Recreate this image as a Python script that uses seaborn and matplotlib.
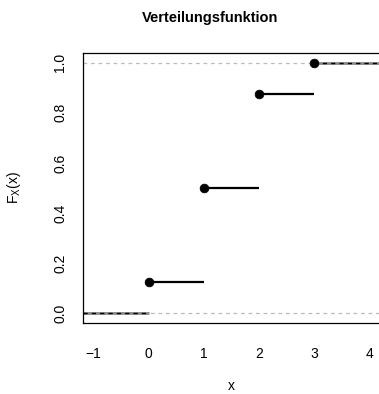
import matplotlib
matplotlib.use("Agg")
import matplotlib.pyplot as plt
import seaborn as sns
import pandas as pd
import numpy as np

x_vals = [0, 1, 2, 3]
F_vals = [0.125, 0.5, 0.875, 1.0]
x_ticks = [-1, 0, 1, 2, 3, 4]
y_ticks = [0.0, 0.2, 0.4, 0.6, 0.8, 1.0]
title = "Verteilungsfunktion"

sns.set_style("white")
plt.rcParams['font.family'] = ['Liberation Sans', 'DejaVu Sans']
plt.rcParams['text.color'] = 'black'
plt.rcParams['axes.labelcolor'] = 'black'
plt.rcParams['xtick.color'] = 'black'
plt.rcParams['ytick.color'] = 'black'

fig = plt.figure(figsize=(3.79, 3.94), dpi=100)
ax = fig.add_axes([82.5/379, (394-323.3)/394, (380.5-82.5)/379, (323.3-52.7)/394])
xmin, xmax = -1.2, 4.2
ax.set_xlim(xmin, xmax)
ax.set_ylim(-0.04, 1.04)

# reference lines at 0 and 1
for h in [0, 1]:
    ax.axhline(h, color="#bbbbbb", lw=0.9, ls=(0, (3, 3)), zorder=1)

# step segments
starts = [xmin] + x_vals
ends = x_vals + [xmax + 0.5]
levels = [0.0] + F_vals
for s, e, lv in zip(starts, ends, levels):
    if lv in (0.0, 1.0):
        ax.plot([s, e], [lv, lv], color="#888888", lw=2.0, solid_capstyle="butt", zorder=2)
        ax.plot([s, e], [lv, lv], color="black", lw=1.0, ls=(0, (3, 3)), zorder=3)
    else:
        ax.plot([s, e], [lv, lv], color="black", lw=1.6, solid_capstyle="butt", zorder=2)

df = pd.DataFrame({"x": x_vals, "F": F_vals})
sns.scatterplot(data=df, x="x", y="F", ax=ax, color="black", s=40, edgecolor="black", zorder=4, clip_on=False)

ax.set_xticks(x_ticks)
ax.set_xticklabels([("\u2212" + str(abs(t))) if t < 0 else str(t) for t in x_ticks])
ax.set_yticks(y_ticks)
ax.set_yticklabels([f"{t:.1f}" for t in y_ticks], rotation=90, va="center")
ax.tick_params(direction="out", length=6, width=0.8, labelsize=10, color="black", labelcolor="black")
ax.tick_params(axis="x", pad=11)
ax.tick_params(axis="y", pad=5)
for sp in ax.spines.values():
    sp.set_color("black")
    sp.set_linewidth(0.9)

ax.set_xlabel("x", fontsize=10, labelpad=13, color="black")
ax.set_ylabel(r"F$_\mathregular{X}$(x)", fontsize=10, labelpad=22, color="black")
fig.text(210/379, 1 - 18/394, title, ha="center", va="center", fontsize=10.5, fontweight="bold", color="black")

fig.savefig("out.png", dpi=100)
